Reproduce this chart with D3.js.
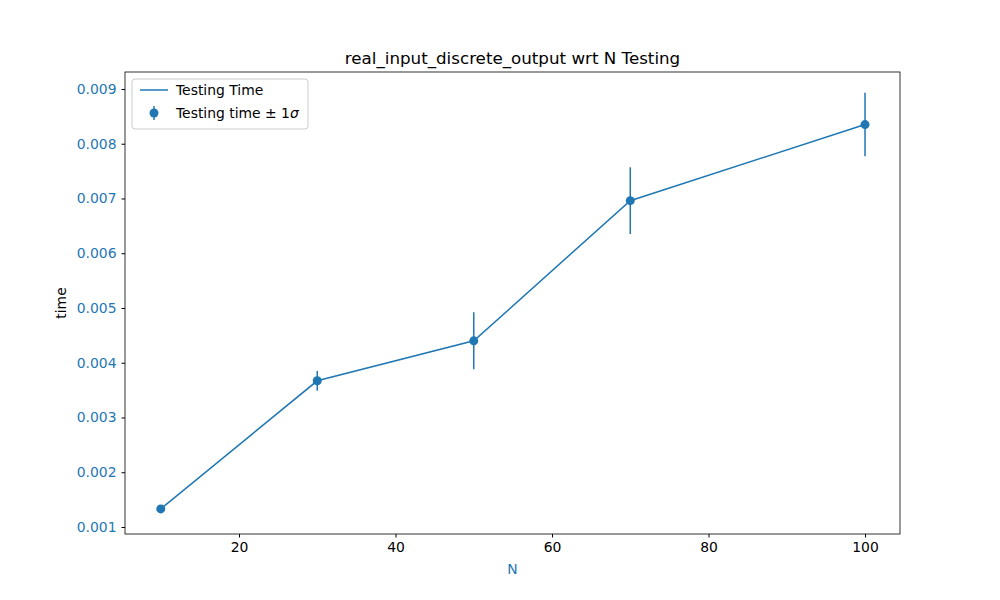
<!DOCTYPE html>
<html>
<head>
<meta charset="utf-8">
<script src="https://d3js.org/d3.v7.min.js"></script>
<style>
body { margin: 0; background: #fff; }
text { font-family: "DejaVu Sans", sans-serif; }
</style>
</head>
<body>
<script>
var nValues = [10, 30, 50, 70, 100];
var timeMeans = [0.00133, 0.00367, 0.00440, 0.00696, 0.00835];
var timeStds = [0.00005, 0.00018, 0.00052, 0.00061, 0.00058];
var xTicks = [20, 40, 60, 80, 100];
var yTicks = [0.001, 0.002, 0.003, 0.004, 0.005, 0.006, 0.007, 0.008, 0.009];

var blue = "#1f77b4";
var fs = 13.9;
var margin = {top: 72, right: 100, bottom: 66, left: 125},
    width = 1000 - margin.left - margin.right,
    height = 600 - margin.top - margin.bottom;

var svg = d3.select("body").append("svg")
    .attr("width", 1000).attr("height", 600)
  .append("g")
    .attr("transform", "translate(" + margin.left + "," + margin.top + ")");

var x = d3.scaleLinear().domain([5.43, 104.47]).range([0, width]);
var y = d3.scaleLinear().domain([0.000872, 0.00931]).range([height, 0]);

var data = nValues.map(function(n, i) { return {n: n, m: timeMeans[i], s: timeStds[i]}; });

var xAxis = svg.append("g").attr("transform", "translate(0," + height + ")")
    .call(d3.axisBottom(x).tickValues(xTicks).tickSize(3.5).tickPadding(5).tickFormat(d3.format("d")));
xAxis.selectAll("text").attr("font-size", fs).attr("fill", "#000");
var yAxis = svg.append("g")
    .call(d3.axisLeft(y).tickValues(yTicks).tickSize(3.5).tickPadding(5).tickFormat(d3.format(".3f")));
yAxis.selectAll("text").attr("font-size", fs).attr("fill", blue);
svg.selectAll(".domain").remove();
svg.append("rect").attr("width", width).attr("height", height)
    .attr("fill", "none").attr("stroke", "#000").attr("stroke-width", 0.8);

svg.append("path").datum(data)
    .attr("fill", "none").attr("stroke", blue).attr("stroke-width", 1.5)
    .attr("d", d3.line().x(function(d) { return x(d.n); }).y(function(d) { return y(d.m); }));

svg.selectAll(".err").data(data).enter().append("line")
    .attr("x1", function(d) { return x(d.n); }).attr("x2", function(d) { return x(d.n); })
    .attr("y1", function(d) { return y(d.m - d.s); }).attr("y2", function(d) { return y(d.m + d.s); })
    .attr("stroke", blue).attr("stroke-width", 1.5);
svg.selectAll(".pt").data(data).enter().append("circle")
    .attr("cx", function(d) { return x(d.n); }).attr("cy", function(d) { return y(d.m); })
    .attr("r", 4.5).attr("fill", blue);

svg.append("text").attr("x", width / 2).attr("y", -8).attr("text-anchor", "middle")
    .attr("font-size", 16.7).text("real_input_discrete_output wrt N Testing");
svg.append("text").attr("x", width / 2).attr("y", height + 40).attr("text-anchor", "middle")
    .attr("font-size", fs).attr("fill", blue).text("N");
svg.append("text").attr("transform", "translate(-59," + (height / 2) + ") rotate(-90)")
    .attr("text-anchor", "middle").attr("font-size", fs).text("time");

// legend
var lg = svg.append("g").attr("transform", "translate(7,7)");
lg.append("rect").attr("width", 176).attr("height", 50).attr("rx", 3)
    .attr("fill", "#fff").attr("stroke", "#ccc");
lg.append("line").attr("x1", 8).attr("x2", 36).attr("y1", 11).attr("y2", 11)
    .attr("stroke", blue).attr("stroke-width", 1.5);
lg.append("text").attr("x", 44).attr("y", 16).attr("font-size", fs).text("Testing Time");
lg.append("line").attr("x1", 22).attr("x2", 22).attr("y1", 27).attr("y2", 41)
    .attr("stroke", blue).attr("stroke-width", 1.5);
lg.append("circle").attr("cx", 22).attr("cy", 34).attr("r", 4.5).attr("fill", blue);
var t = lg.append("text").attr("x", 44).attr("y", 39).attr("font-size", fs);
t.append("tspan").text("Testing time \u00b1 1");
t.append("tspan").attr("font-style", "italic").text("\u03c3");
</script>
</body>
</html>
